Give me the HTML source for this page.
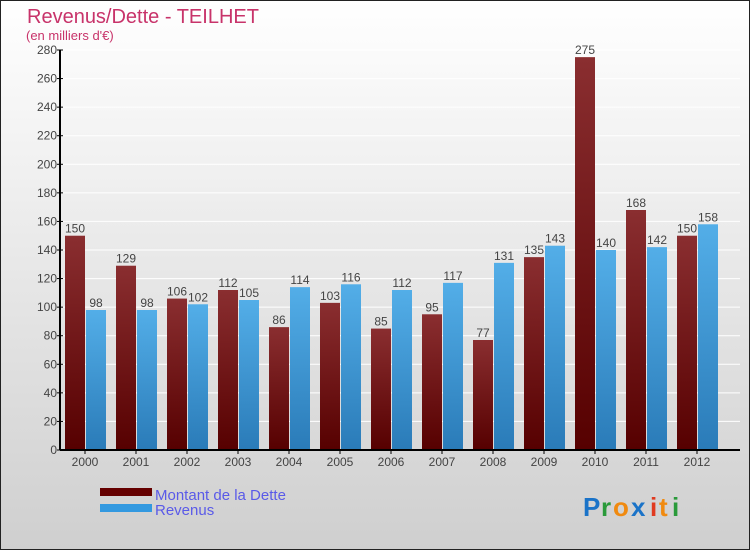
<!DOCTYPE html>
<html><head><meta charset="utf-8"><style>
body{margin:0;width:750px;height:550px;overflow:hidden;}
svg{display:block;font-family:"Liberation Sans",sans-serif;}
</style></head><body>
<svg id="chart" width="750" height="550">
<defs>
<linearGradient id="bg" x1="0" y1="0" x2="0" y2="1"><stop offset="0" stop-color="#ffffff"/><stop offset="1" stop-color="#cfcfcf"/></linearGradient>
<linearGradient id="gd" x1="0" y1="0" x2="0" y2="1"><stop offset="0" stop-color="#8a2e30"/><stop offset="1" stop-color="#560000"/></linearGradient>
<linearGradient id="gr" x1="0" y1="0" x2="0" y2="1"><stop offset="0" stop-color="#53aee8"/><stop offset="1" stop-color="#2a7bb8"/></linearGradient>
</defs>
<rect x="0.5" y="0.5" width="749" height="549" fill="url(#bg)" stroke="#222"/>
<text x="27" y="23" font-size="20" fill="#c8336a">Revenus/Dette - TEILHET</text>
<text x="26" y="40" font-size="13" fill="#c8336a">(en milliers d'€)</text>
<g id="grid"></g><g id="bars"></g><g id="axes"></g>
<rect x="100" y="488" width="52" height="8" fill="#650000"/>
<text x="155" y="500" font-size="15" fill="#5a5ae8">Montant de la Dette</text>
<rect x="100" y="504" width="52" height="8" fill="#3399e0"/>
<text x="155" y="515" font-size="15" fill="#5a5ae8">Revenus</text>
<g font-size="26" font-weight="bold">
<text x="583" y="516" fill="#1a73c8">P</text><text x="601" y="516" fill="#2a9a3a">r</text><text x="613" y="516" fill="#f08a10">o</text><text x="631" y="516" fill="#1a73c8">x</text><text x="650" y="516" fill="#e03a20">i</text><text x="659" y="516" fill="#f08a10">t</text><text x="672" y="516" fill="#2a9a3a">i</text>
</g>
</svg>
<script>
const categories=["2000","2001","2002","2003","2004","2005","2006","2007","2008","2009","2010","2011","2012"];
const dette=[150,129,106,112,86,103,85,95,77,135,275,168,150];
const revenus=[98,98,102,105,114,116,112,117,131,143,140,142,158];
const yTicks=[0,20,40,60,80,100,120,140,160,180,200,220,240,260,280];
const NS="http://www.w3.org/2000/svg";
const x0=60,band=51,yBase=450,yTop=50,yMax=280;
const y=v=>yBase-(v/yMax)*(yBase-yTop);
const cx=i=>x0+band*i+25;
function mk(tag,attrs,parent,text){const e=document.createElementNS(NS,tag);for(const k in attrs)e.setAttribute(k,attrs[k]);if(text!==undefined)e.textContent=text;parent.appendChild(e);return e;}
const grid=document.getElementById('grid'),bars=document.getElementById('bars'),axes=document.getElementById('axes');
yTicks.forEach(t=>{
 const l=mk('line',{x1:x0,x2:740,y1:y(t),y2:y(t),stroke:'#fff','stroke-width':1},grid);
 
 
 const tk=mk('line',{x1:x0-3,x2:x0+3,y1:y(t),y2:y(t),stroke:'#000'},axes);
 
 
 const tx=mk('text',{x:x0-3,y:y(t)+4,'font-size':12,'text-anchor':'end',fill:'#444'},axes,t);
 
 
});
categories.forEach((c,i)=>{
 const c0=cx(i);
 const b1=mk('rect',{x:c0-20,y:y(dette[i]),width:20,height:yBase-y(dette[i]),fill:'url(#gd)'},bars);
 
 
 const b2=mk('rect',{x:c0+1,y:y(revenus[i]),width:20,height:yBase-y(revenus[i]),fill:'url(#gr)'},bars);
 
 
 const v1=mk('text',{x:c0-10,y:y(dette[i])-3,'font-size':12,'text-anchor':'middle',fill:'#444'},bars,dette[i]);
 
 
 const v2=mk('text',{x:c0+11,y:y(revenus[i])-3,'font-size':12,'text-anchor':'middle',fill:'#444'},bars,revenus[i]);
 
 
 const tk=mk('line',{x1:c0,x2:c0,y1:yBase,y2:yBase+4,stroke:'#000'},axes);
 
 
 const lb=mk('text',{x:c0,y:466,'font-size':12,'text-anchor':'middle',fill:'#444'},axes,c);
 
 
});
const ya=mk('line',{x1:x0,x2:x0,y1:yTop,y2:yBase,stroke:'#000','stroke-width':2},axes);


const xa=mk('line',{x1:x0,x2:740,y1:yBase,y2:yBase,stroke:'#000','stroke-width':2},axes);


</script>
</body></html>
